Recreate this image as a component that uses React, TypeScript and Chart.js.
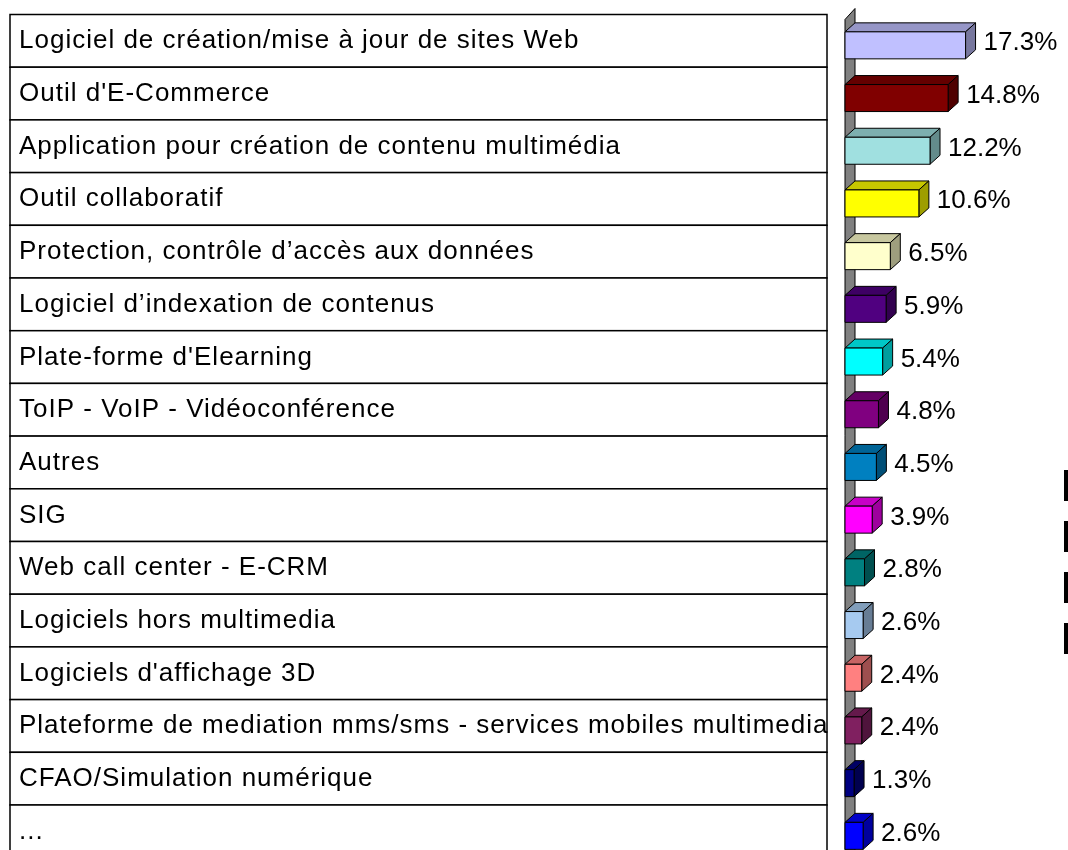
import React, { useEffect, useRef } from 'react';
import { Chart, registerables } from 'chart.js';

Chart.register(...registerables);

const categories: string[] = [
  'Logiciel de création/mise à jour de sites Web',
  "Outil d'E-Commerce",
  'Application pour création de contenu multimédia',
  'Outil collaboratif',
  'Protection, contrôle d’accès aux données',
  'Logiciel d’indexation de contenus',
  "Plate-forme d'Elearning",
  'ToIP - VoIP - Vidéoconférence',
  'Autres',
  'SIG',
  'Web call center - E-CRM',
  'Logiciels hors multimedia',
  "Logiciels d'affichage 3D",
  'Plateforme de mediation mms/sms - services mobiles multimedia',
  'CFAO/Simulation numérique',
  '...',
];

const values: number[] = [17.3, 14.8, 12.2, 10.6, 6.5, 5.9, 5.4, 4.8, 4.5, 3.9, 2.8, 2.6, 2.4, 2.4, 1.3, 2.6];

const barColors: string[] = [
  '#C0C0FF', '#800000', '#A0E0E0', '#FFFF00', '#FFFFCC', '#500080', '#00FFFF', '#800080',
  '#0080C0', '#FF00FF', '#008080', '#A6CAF0', '#FF8080', '#802060', '#000080', '#0000FF',
];

const legendMarks: number[] = [0, 1, 2, 3];

const DX = 10;
const DY = 9;
const FONT = '"Liberation Sans", Arial, sans-serif';

function shade(hex: string, f: number): string {
  const n = parseInt(hex.slice(1), 16);
  const r = Math.round(((n >> 16) & 255) * f);
  const g = Math.round(((n >> 8) & 255) * f);
  const b = Math.round((n & 255) * f);
  return `rgb(${r},${g},${b})`;
}

function poly(ctx: CanvasRenderingContext2D, pts: number[][], fill: string) {
  ctx.beginPath();
  ctx.moveTo(pts[0][0], pts[0][1]);
  for (let i = 1; i < pts.length; i++) ctx.lineTo(pts[i][0], pts[i][1]);
  ctx.closePath();
  ctx.fillStyle = fill;
  ctx.fill();
  ctx.stroke();
}

const tablePlugin = {
  id: 'table3d',
  beforeDatasetsDraw(chart: any) {
    const ctx: CanvasRenderingContext2D = chart.ctx;
    const ys = chart.scales.y;
    const xs = chart.scales.x;
    const pitch = Math.abs(ys.getPixelForValue(1) - ys.getPixelForValue(0));
    const left = 10;
    const right = 827;
    ctx.save();
    ctx.strokeStyle = '#000';
    ctx.lineWidth = 1.5;
    categories.forEach((c, i) => {
      const cy = ys.getPixelForValue(i);
      const top = cy - pitch / 2;
      ctx.fillStyle = '#fff';
      ctx.fillRect(left, top, right - left, pitch);
      ctx.strokeRect(left, top, right - left, pitch);
      ctx.fillStyle = '#000';
      ctx.font = `26px ${FONT}`;
      (ctx as any).letterSpacing = '1px';
      ctx.textAlign = 'left';
      ctx.textBaseline = 'alphabetic';
      ctx.fillText(c, left + 9, cy + 7.5);
    });
    (ctx as any).letterSpacing = '0px';
    // wall
    const x0 = xs.getPixelForValue(0);
    const wallTop = chart.chartArea.top + 5;
    const bottom = chart.height + 20;
    ctx.lineWidth = 1;
    poly(ctx, [[x0, wallTop], [x0 + DX, wallTop - DY - 2], [x0 + DX, bottom], [x0, bottom]], '#808080');
    ctx.restore();
  },
  beforeDatasetDraw(chart: any, args: any) {
    const ctx: CanvasRenderingContext2D = chart.ctx;
    const meta = chart.getDatasetMeta(args.index);
    ctx.save();
    ctx.strokeStyle = '#000';
    ctx.lineWidth = 1;
    ctx.lineJoin = 'round';
    meta.data.forEach((el: any, i: number) => {
      const col = barColors[i];
      const x0 = el.base;
      const x1 = el.x;
      const h = el.height;
      const fy = el.y + DY / 2 - h / 2;
      poly(ctx, [[x0, fy], [x0 + DX, fy - DY], [x1 + DX, fy - DY], [x1, fy]], shade(col, 0.78));
      poly(ctx, [[x1, fy], [x1 + DX, fy - DY], [x1 + DX, fy - DY + h], [x1, fy + h]], shade(col, 0.62));
      poly(ctx, [[x0, fy], [x1, fy], [x1, fy + h], [x0, fy + h]], col);
    });
    ctx.restore();
    return false;
  },
  afterDatasetsDraw(chart: any) {
    const ctx: CanvasRenderingContext2D = chart.ctx;
    const meta = chart.getDatasetMeta(0);
    ctx.save();
    ctx.fillStyle = '#000';
    ctx.font = `26px ${FONT}`;
    ctx.textAlign = 'left';
    ctx.textBaseline = 'alphabetic';
    meta.data.forEach((el: any, i: number) => {
      ctx.fillText(`${values[i].toFixed(1)}%`, el.x + DX + 8, el.y + 9.5);
    });
    // partially visible legend keys at the right edge
    legendMarks.forEach((k) => {
      ctx.fillRect(chart.width - 4, 470 + k * 51, 6, 31);
    });
    ctx.restore();
  },
};

export default function App() {
  const ref = useRef<HTMLCanvasElement | null>(null);
  useEffect(() => {
    if (!ref.current) return;
    const chart = new Chart(ref.current, {
      type: 'bar',
      data: {
        datasets: [
          {
            data: values.map((v, i) => ({ x: v, y: i })),
            backgroundColor: barColors,
            barThickness: 27,
          },
        ],
      },
      options: {
        indexAxis: 'y',
        animation: false,
        responsive: false,
        events: [],
        layout: { padding: { left: 845, top: 14.5, right: 0, bottom: 0 } },
        plugins: { legend: { display: false }, tooltip: { enabled: false } },
        scales: {
          x: { type: 'linear', display: false, min: 0, max: 32 },
          y: {
            type: 'linear',
            display: false,
            offset: false,
            reverse: true,
            min: -0.5,
            max: -0.5 + 835.5 / 52.7,
          },
        },
      },
      plugins: [tablePlugin],
    } as any);
    return () => chart.destroy();
  }, []);
  return (
    <canvas
      ref={ref}
      width={1068}
      height={850}
      style={{ position: 'absolute', left: 0, top: 0, width: 1068, height: 850, display: 'block' }}
    />
  );
}
